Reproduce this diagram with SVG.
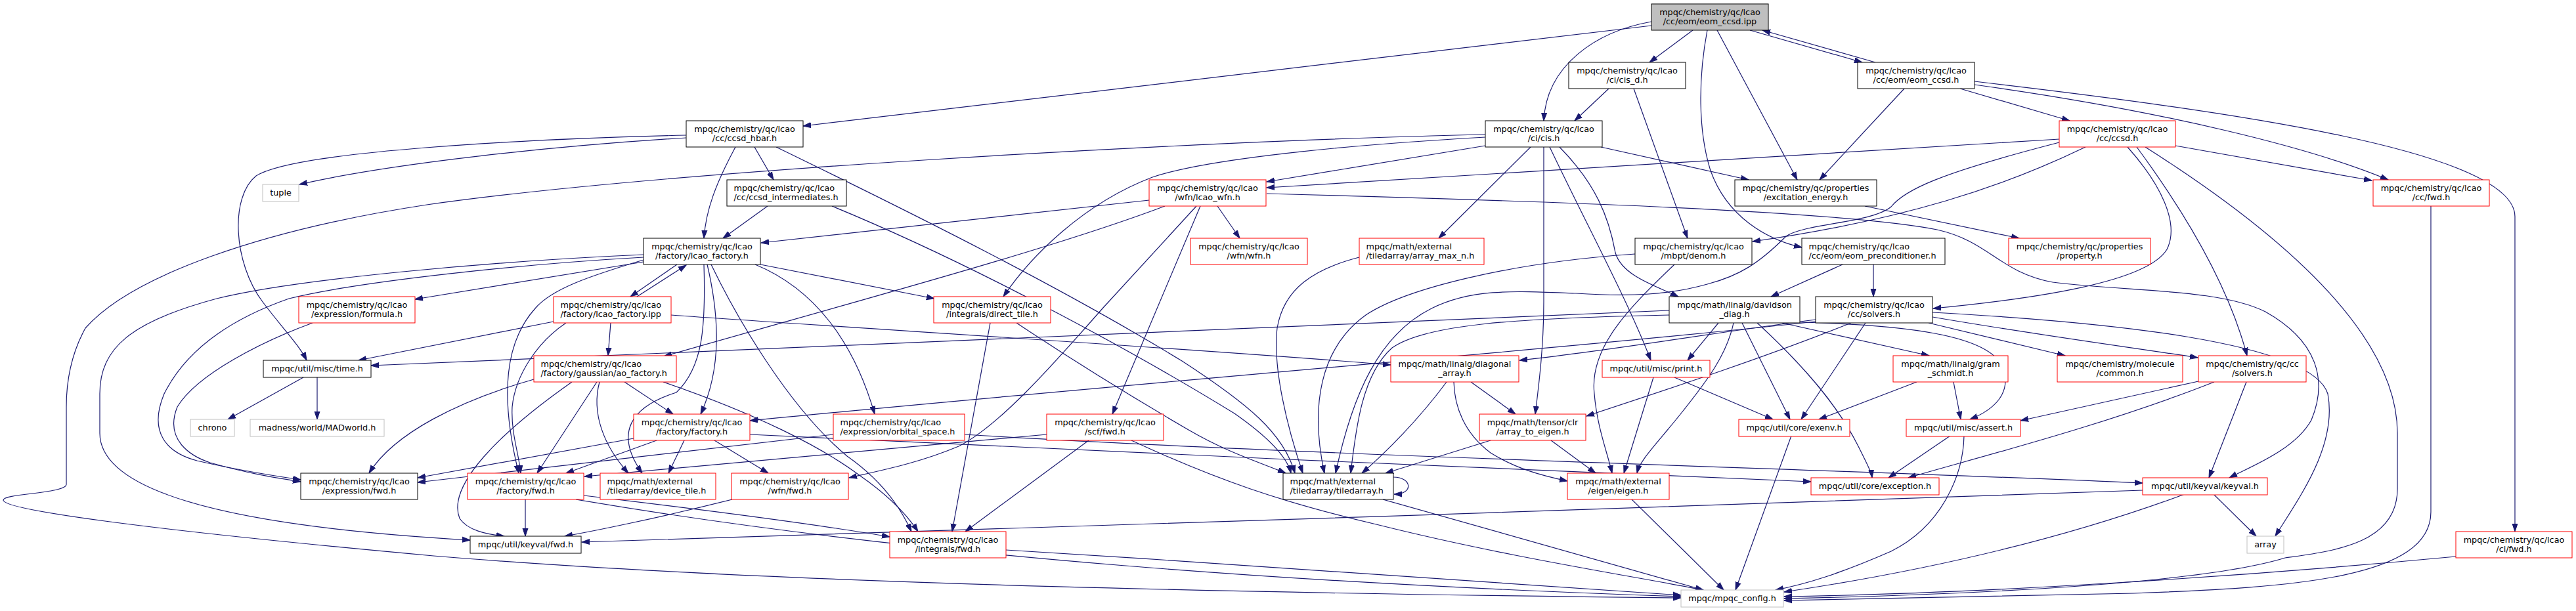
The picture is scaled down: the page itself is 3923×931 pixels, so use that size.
<svg xmlns="http://www.w3.org/2000/svg" width="3923" height="931" viewBox="0 0 3923 931">
<style>
.n rect{fill:#fff;stroke:#000;stroke-width:1}
.r rect{stroke:#ff0000}
.g rect{stroke:#bfbfbf}
.m rect{fill:#bfbfbf}
text{font-family:"DejaVu Sans",sans-serif;font-size:12.8px;fill:#000;text-anchor:middle}
.l text{text-anchor:start}
#edges path{fill:none;stroke:#191970;stroke-width:1.2;marker-end:url(#a)}
</style>
<defs>
<marker id="a" markerUnits="userSpaceOnUse" markerWidth="13" markerHeight="10" refX="12" refY="4.5" orient="auto" viewBox="0 0 13 9"><path d="M0,0.5 L12,4.5 L0,8.5 Z" fill="#191970" stroke="#191970" stroke-width="1"/></marker>
</defs>
<rect width="3923" height="931" fill="#fff"/>
<g id="edges">
<path d="M2515,33 C2430,48 2355,100 2351,184"/>
<path d="M2515,39 L1223,192"/>
<path d="M2578,46 L2512,95"/>
<path d="M2600,46 C2586,120 2586,200 2605,260 C2630,330 2690,365 2744,377"/>
<path d="M2615,46 L2737,274"/>
<path d="M2665,46 L2836,95"/>
<path d="M2856,95 L2684,46"/>
<path d="M2450,135 L2398,184"/>
<path d="M2488,135 L2570,363"/>
<path d="M2262,222 L1929,277"/>
<path d="M2262,209 C2100,218 1850,238 1755,270 C1650,310 1570,390 1528,452"/>
<path d="M2262,205 C1800,215 1000,262 650,312 C400,350 200,420 130,500 C108,540 101,580 101,620 L101,738 C101,752 5,752 5,762 C5,776 200,805 660,847 C1200,892 2000,905 2560,911"/>
<path d="M2331,224 L2191,363"/>
<path d="M2351,224 L2351,460 C2351,530 2343,590 2338,631"/>
<path d="M2360,224 C2420,350 2480,460 2514,549"/>
<path d="M2375,224 C2430,280 2450,330 2460,385 C2470,420 2520,435 2556,452"/>
<path d="M2438,224 L2663,274"/>
<path d="M2985,135 L3152,184"/>
<path d="M2900,135 L2771,274"/>
<path d="M3007,124 C3400,170 3830,230 3830,330 L3830,810"/>
<path d="M3007,129 C3300,170 3520,225 3637,274"/>
<path d="M3313,222 L3612,275"/>
<path d="M3136,212 L1929,286"/>
<path d="M1929,295 C2300,305 2800,320 2950,350 C3030,368 3045,415 3126,430 C3250,445 3380,440 3450,475 C3530,520 3545,580 3520,640 C3495,685 3430,710 3395,728"/>
<path d="M3176,224 C3050,285 2900,335 2669,368"/>
<path d="M3136,217 C2950,265 2900,290 2880,315 C2850,340 2750,340 2720,360 C2680,400 2650,420 2600,433 C2540,450 2480,452 2400,447 C2300,443 2240,440 2180,470 C2100,510 2060,600 2034,721"/>
<path d="M3240,224 C3290,280 3320,340 3300,380 C3270,430 3100,455 2944,470"/>
<path d="M3254,224 C3310,300 3390,420 3422,542"/>
<path d="M3267,224 C3450,340 3651,500 3651,660 L3651,745 C3651,830 3550,840 3480,850 C3350,890 3000,906 2717,912"/>
<path d="M3702,314 L3702,780 C3702,880 3500,895 3250,904 C3000,910 2800,913 2717,915"/>
<path d="M3740,848 C3400,880 3000,905 2717,909"/>
<path d="M2840,314 L3075,363"/>
<path d="M2806,403 L2697,452"/>
<path d="M2853,403 L2853,452"/>
<path d="M2490,387 C2300,400 2140,440 2080,480 C2010,530 1995,620 2017,721"/>
<path d="M2550,403 C2480,470 2420,530 2428,600 C2432,650 2448,690 2455,721"/>
<path d="M2070,392 C2000,410 1955,440 1945,500 C1938,560 1960,650 1984,721"/>
<path d="M1045,210 C850,222 600,248 456,281"/>
<path d="M1045,206 C800,212 450,230 390,268 C350,300 355,400 400,460 C430,500 455,525 467,549"/>
<path d="M1120,224 C1090,280 1075,320 1072,363"/>
<path d="M1149,224 L1178,274"/>
<path d="M1182,224 C1400,330 1620,440 1800,550 C1900,615 1955,660 1972,721"/>
<path d="M1169,314 L1101,363"/>
<path d="M1267,314 C1500,410 1750,550 1880,630 C1930,665 1960,695 1966,721"/>
<path d="M1750,305 L1159,370"/>
<path d="M1774,314 C1600,380 1300,460 1011,543"/>
<path d="M1822,314 L1679,470 C1600,560 1520,650 1460,680 C1400,705 1350,715 1293,728"/>
<path d="M1828,314 L1694,631"/>
<path d="M1854,314 L1888,363"/>
<path d="M1031,403 L960,452"/>
<path d="M970,452 L1045,404"/>
<path d="M980,399 L632,456"/>
<path d="M980,392 C800,402 550,428 440,455 C340,490 280,540 250,600 C225,660 255,690 300,702 C360,716 410,724 458,731"/>
<path d="M980,388 C750,398 450,425 330,455 C200,490 152,530 152,600 L152,660 C152,760 400,805 716,823"/>
<path d="M980,396 C900,420 840,440 815,470 C770,520 760,600 790,721"/>
<path d="M1072,403 C1075,500 1070,560 1030,598 C960,620 935,660 978,721"/>
<path d="M1077,403 C1095,480 1100,560 1067,631"/>
<path d="M1083,403 C1120,480 1200,620 1290,695 C1340,730 1370,770 1388,810"/>
<path d="M1150,403 C1240,440 1300,520 1332,631"/>
<path d="M1158,403 L1423,455"/>
<path d="M476,492 C400,520 300,570 270,620 C250,670 290,695 320,705 C380,722 420,728 458,734"/>
<path d="M843,490 L546,549"/>
<path d="M862,492 C820,520 785,570 780,620 C778,660 790,690 793,721"/>
<path d="M930,492 L926,542"/>
<path d="M1022,480 C1300,500 1800,530 2118,556"/>
<path d="M813,578 C700,610 600,660 562,721"/>
<path d="M871,582 C760,660 680,740 700,790 C712,808 740,814 768,817"/>
<path d="M909,582 L818,721"/>
<path d="M913,582 C900,630 920,680 957,721"/>
<path d="M951,582 L1025,631"/>
<path d="M1010,582 C1150,630 1250,680 1310,725 C1360,760 1385,790 1398,810"/>
<path d="M965,668 L636,728"/>
<path d="M1269,662 L636,735"/>
<path d="M1000,671 L862,721"/>
<path d="M1042,671 L1018,721"/>
<path d="M1088,671 L1170,721"/>
<path d="M1142,662 C1600,685 2300,715 2758,734"/>
<path d="M1469,662 C2000,695 2800,715 3263,736"/>
<path d="M1594,662 L890,726"/>
<path d="M1658,671 L1470,810"/>
<path d="M1723,671 C1850,730 1950,765 2100,800 C2300,850 2500,880 2594,899"/>
<path d="M1508,492 L1450,810"/>
<path d="M1548,492 C1650,560 1750,620 1810,655 C1870,690 1920,705 1958,721"/>
<path d="M800,761 L800,817"/>
<path d="M889,755 C1100,780 1250,800 1355,818"/>
<path d="M877,761 C1400,850 2000,890 2560,909"/>
<path d="M1115,761 C1000,790 900,810 860,817"/>
<path d="M3263,747 C2600,773 1500,805 886,826"/>
<path d="M3327,753 C3200,800 3000,860 2717,902"/>
<path d="M3371,753 L3436,817"/>
<path d="M3348,581 L3077,641"/>
<path d="M3372,582 C3200,650 3000,700 2906,728"/>
<path d="M3421,582 L3364,728"/>
<path d="M2970,664 L2876,728"/>
<path d="M2991,664 C2990,720 2960,800 2880,840 C2800,875 2750,890 2704,899"/>
<path d="M2728,664 L2643,899"/>
<path d="M2919,582 L2770,639"/>
<path d="M2975,582 L2986,639"/>
<path d="M2542,473 L565,557"/>
<path d="M2542,480 C2300,485 2170,495 2120,530 C2075,570 2065,650 2057,721"/>
<path d="M2617,492 L2570,549"/>
<path d="M2640,492 C2630,540 2600,580 2560,630 C2520,680 2498,700 2493,721"/>
<path d="M2653,492 L2726,639"/>
<path d="M2676,492 C2750,560 2800,620 2830,680 C2845,710 2850,720 2851,728"/>
<path d="M2714,492 L2938,542"/>
<path d="M2741,491 C2900,495 3030,510 3050,560 C3065,600 3035,625 3000,639"/>
<path d="M2765,490 C2400,530 1600,595 1142,641"/>
<path d="M2765,487 C2600,508 2450,535 2314,549"/>
<path d="M2819,492 C2700,540 2550,590 2416,634"/>
<path d="M2841,492 L2743,639"/>
<path d="M2943,476 C3200,490 3520,520 3545,600 C3560,680 3500,760 3465,817"/>
<path d="M2943,483 C3100,510 3250,530 3347,545"/>
<path d="M2937,492 L3145,542"/>
<path d="M462,575 L347,639"/>
<path d="M483,575 L483,639"/>
<path d="M2203,582 C2160,640 2110,690 2074,721"/>
<path d="M2214,582 C2215,620 2230,660 2270,690 C2310,715 2350,725 2387,733"/>
<path d="M2240,582 L2308,631"/>
<path d="M2270,671 L2110,721"/>
<path d="M2362,671 L2430,721"/>
<path d="M2518,575 L2473,721"/>
<path d="M2550,575 L2700,639"/>
<path d="M2106,761 L2594,899"/>
<path d="M2122,727 C2150,727 2154,753 2123,753"/>
<path d="M2485,761 L2625,899"/>
<path d="M1532,838 C1900,860 2300,890 2560,907"/>
</g>
<g id="n1" class="n m"><rect x="2515" y="6" width="178" height="40"/><text x="2604" y="22.5">mpqc/chemistry/qc/lcao</text><text x="2604" y="36.5">/cc/eom/eom_ccsd.ipp</text></g>
<g id="n2" class="n"><rect x="2389" y="95" width="178" height="40"/><text x="2478" y="111.5">mpqc/chemistry/qc/lcao</text><text x="2478" y="125.5">/ci/cis_d.h</text></g>
<g id="n3" class="n"><rect x="2262" y="184" width="178" height="40"/><text x="2351" y="200.5">mpqc/chemistry/qc/lcao</text><text x="2351" y="214.5">/ci/cis.h</text></g>
<g id="n4" class="n"><rect x="2829" y="95" width="178" height="40"/><text x="2918" y="111.5">mpqc/chemistry/qc/lcao</text><text x="2918" y="125.5">/cc/eom/eom_ccsd.h</text></g>
<g id="n5" class="n"><rect x="1045" y="184" width="178" height="40"/><text x="1134" y="200.5">mpqc/chemistry/qc/lcao</text><text x="1134" y="214.5">/cc/ccsd_hbar.h</text></g>
<g id="n6" class="n r"><rect x="3136" y="184" width="177" height="40"/><text x="3224.5" y="200.5">mpqc/chemistry/qc/lcao</text><text x="3224.5" y="214.5">/cc/ccsd.h</text></g>
<g id="n7" class="n g"><rect x="400" y="281" width="55" height="26"/><text x="427.5" y="297.5">tuple</text></g>
<g id="n8" class="n l"><rect x="1107" y="274" width="182" height="40"/><text x="1117.5" y="290.5">mpqc/chemistry/qc/lcao</text><text x="1117.5" y="304.5">/cc/ccsd_intermediates.h</text></g>
<g id="n9" class="n r"><rect x="1750" y="274" width="178" height="40"/><text x="1839" y="290.5">mpqc/chemistry/qc/lcao</text><text x="1839" y="304.5">/wfn/lcao_wfn.h</text></g>
<g id="n10" class="n"><rect x="2642" y="274" width="216" height="40"/><text x="2750" y="290.5">mpqc/chemistry/qc/properties</text><text x="2750" y="304.5">/excitation_energy.h</text></g>
<g id="n11" class="n r"><rect x="3614" y="274" width="177" height="40"/><text x="3702.5" y="290.5">mpqc/chemistry/qc/lcao</text><text x="3702.5" y="304.5">/cc/fwd.h</text></g>
<g id="n12" class="n"><rect x="980" y="363" width="178" height="40"/><text x="1069" y="379.5">mpqc/chemistry/qc/lcao</text><text x="1069" y="393.5">/factory/lcao_factory.h</text></g>
<g id="n13" class="n r"><rect x="1813" y="363" width="178" height="40"/><text x="1902" y="379.5">mpqc/chemistry/qc/lcao</text><text x="1902" y="393.5">/wfn/wfn.h</text></g>
<g id="n14" class="n r l"><rect x="2070" y="363" width="190" height="40"/><text x="2080.5" y="379.5">mpqc/math/external</text><text x="2080.5" y="393.5">/tiledarray/array_max_n.h</text></g>
<g id="n15" class="n"><rect x="2490" y="363" width="178" height="40"/><text x="2579" y="379.5">mpqc/chemistry/qc/lcao</text><text x="2579" y="393.5">/mbpt/denom.h</text></g>
<g id="n16" class="n l"><rect x="2744" y="363" width="218" height="40"/><text x="2754.5" y="379.5">mpqc/chemistry/qc/lcao</text><text x="2754.5" y="393.5">/cc/eom/eom_preconditioner.h</text></g>
<g id="n17" class="n r"><rect x="3059" y="363" width="216" height="40"/><text x="3167" y="379.5">mpqc/chemistry/qc/properties</text><text x="3167" y="393.5">/property.h</text></g>
<g id="n18" class="n r"><rect x="455" y="452" width="177" height="40"/><text x="543.5" y="468.5">mpqc/chemistry/qc/lcao</text><text x="543.5" y="482.5">/expression/formula.h</text></g>
<g id="n19" class="n r l"><rect x="843" y="452" width="179" height="40"/><text x="853.5" y="468.5">mpqc/chemistry/qc/lcao</text><text x="853.5" y="482.5">/factory/lcao_factory.ipp</text></g>
<g id="n20" class="n r"><rect x="1422" y="452" width="178" height="40"/><text x="1511" y="468.5">mpqc/chemistry/qc/lcao</text><text x="1511" y="482.5">/integrals/direct_tile.h</text></g>
<g id="n21" class="n"><rect x="2542" y="452" width="199" height="40"/><text x="2641.5" y="468.5">mpqc/math/linalg/davidson</text><text x="2641.5" y="482.5">_diag.h</text></g>
<g id="n22" class="n"><rect x="2765" y="452" width="178" height="40"/><text x="2854" y="468.5">mpqc/chemistry/qc/lcao</text><text x="2854" y="482.5">/cc/solvers.h</text></g>
<g id="n23" class="n"><rect x="401" y="549" width="164" height="26"/><text x="483" y="565.5">mpqc/util/misc/time.h</text></g>
<g id="n24" class="n r l"><rect x="813" y="542" width="217" height="40"/><text x="823.5" y="558.5">mpqc/chemistry/qc/lcao</text><text x="823.5" y="572.5">/factory/gaussian/ao_factory.h</text></g>
<g id="n25" class="n r"><rect x="2118" y="542" width="195" height="40"/><text x="2215.5" y="558.5">mpqc/math/linalg/diagonal</text><text x="2215.5" y="572.5">_array.h</text></g>
<g id="n26" class="n r"><rect x="2440" y="549" width="164" height="26"/><text x="2522" y="565.5">mpqc/util/misc/print.h</text></g>
<g id="n27" class="n r"><rect x="2883" y="542" width="175" height="40"/><text x="2970.5" y="558.5">mpqc/math/linalg/gram</text><text x="2970.5" y="572.5">_schmidt.h</text></g>
<g id="n28" class="n r"><rect x="3133" y="542" width="191" height="40"/><text x="3228.5" y="558.5">mpqc/chemistry/molecule</text><text x="3228.5" y="572.5">/common.h</text></g>
<g id="n29" class="n r"><rect x="3348" y="542" width="164" height="40"/><text x="3430" y="558.5">mpqc/chemistry/qc/cc</text><text x="3430" y="572.5">/solvers.h</text></g>
<g id="n30" class="n g"><rect x="290" y="639" width="67" height="26"/><text x="323.5" y="655.5">chrono</text></g>
<g id="n31" class="n g"><rect x="381" y="639" width="204" height="26"/><text x="483" y="655.5">madness/world/MADworld.h</text></g>
<g id="n32" class="n r"><rect x="965" y="631" width="177" height="40"/><text x="1053.5" y="647.5">mpqc/chemistry/qc/lcao</text><text x="1053.5" y="661.5">/factory/factory.h</text></g>
<g id="n33" class="n r l"><rect x="1269" y="631" width="200" height="40"/><text x="1279.5" y="647.5">mpqc/chemistry/qc/lcao</text><text x="1279.5" y="661.5">/expression/orbital_space.h</text></g>
<g id="n34" class="n r"><rect x="1594" y="631" width="178" height="40"/><text x="1683" y="647.5">mpqc/chemistry/qc/lcao</text><text x="1683" y="661.5">/scf/fwd.h</text></g>
<g id="n35" class="n r"><rect x="2253" y="631" width="162" height="40"/><text x="2334" y="647.5">mpqc/math/tensor/clr</text><text x="2334" y="661.5">/array_to_eigen.h</text></g>
<g id="n36" class="n r"><rect x="2648" y="639" width="169" height="26"/><text x="2732.5" y="655.5">mpqc/util/core/exenv.h</text></g>
<g id="n37" class="n r"><rect x="2903" y="639" width="174" height="26"/><text x="2990" y="655.5">mpqc/util/misc/assert.h</text></g>
<g id="n38" class="n"><rect x="458" y="721" width="178" height="40"/><text x="547" y="737.5">mpqc/chemistry/qc/lcao</text><text x="547" y="751.5">/expression/fwd.h</text></g>
<g id="n39" class="n r"><rect x="712" y="721" width="177" height="40"/><text x="800.5" y="737.5">mpqc/chemistry/qc/lcao</text><text x="800.5" y="751.5">/factory/fwd.h</text></g>
<g id="n40" class="n r l"><rect x="914" y="721" width="176" height="40"/><text x="924.5" y="737.5">mpqc/math/external</text><text x="924.5" y="751.5">/tiledarray/device_tile.h</text></g>
<g id="n41" class="n r"><rect x="1114" y="721" width="178" height="40"/><text x="1203" y="737.5">mpqc/chemistry/qc/lcao</text><text x="1203" y="751.5">/wfn/fwd.h</text></g>
<g id="n42" class="n l"><rect x="1954" y="721" width="168" height="40"/><text x="1964.5" y="737.5">mpqc/math/external</text><text x="1964.5" y="751.5">/tiledarray/tiledarray.h</text></g>
<g id="n43" class="n r"><rect x="2387" y="721" width="155" height="40"/><text x="2464.5" y="737.5">mpqc/math/external</text><text x="2464.5" y="751.5">/eigen/eigen.h</text></g>
<g id="n44" class="n r"><rect x="2758" y="728" width="195" height="26"/><text x="2855.5" y="744.5">mpqc/util/core/exception.h</text></g>
<g id="n45" class="n r"><rect x="3263" y="728" width="190" height="26"/><text x="3358" y="744.5">mpqc/util/keyval/keyval.h</text></g>
<g id="n46" class="n"><rect x="716" y="817" width="169" height="26"/><text x="800.5" y="833.5">mpqc/util/keyval/fwd.h</text></g>
<g id="n47" class="n r"><rect x="1355" y="810" width="177" height="40"/><text x="1443.5" y="826.5">mpqc/chemistry/qc/lcao</text><text x="1443.5" y="840.5">/integrals/fwd.h</text></g>
<g id="n48" class="n g"><rect x="3422" y="817" width="56" height="26"/><text x="3450" y="833.5">array</text></g>
<g id="n49" class="n r"><rect x="3740" y="810" width="177" height="40"/><text x="3828.5" y="826.5">mpqc/chemistry/qc/lcao</text><text x="3828.5" y="840.5">/ci/fwd.h</text></g>
<g id="n50" class="n g"><rect x="2560" y="899" width="156" height="26"/><text x="2638" y="915.5">mpqc/mpqc_config.h</text></g>
</svg>
